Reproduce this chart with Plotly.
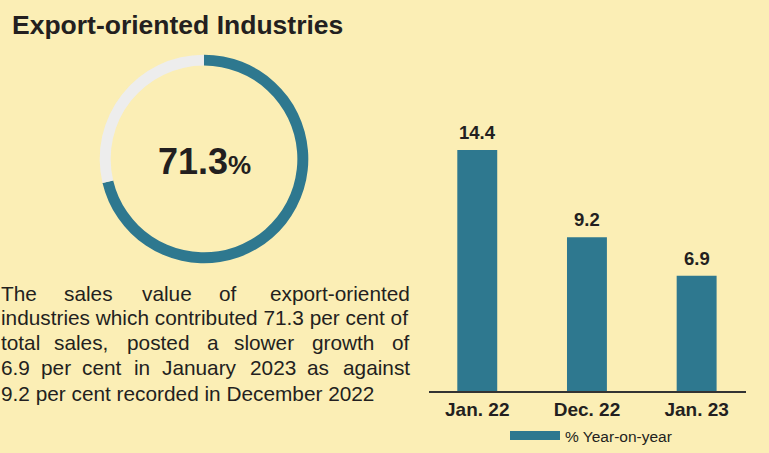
import plotly.graph_objects as go

W, H = 769, 453

COLORS = {
    "bg": "#FBEEB5",
    "teal": "#2E788F",
    "ring": "#EDEDED",
    "text": "#231F20",
}
FONT = "Arial, 'Liberation Sans', sans-serif"

# data
categories = ["Jan. 22", "Dec. 22", "Jan. 23"]
yoy_growth = [14.4, 9.2, 6.9]
share_labels = ["Export-oriented", "Other industries"]
share_values = [71.3, 28.7]
share_text = "71.3"
legend_name = "% Year-on-year"
title_text = "Export-oriented Industries"

paragraph = [
    ["The", "sales", "value", "of", "export-oriented"],
    ["industries which contributed 71.3 per cent of"],
    ["total", "sales,", "posted", "a", "slower", "growth", "of"],
    ["6.9", "per", "cent", "in", "January", "2023", "as", "against"],
    ["9.2 per cent recorded in December 2022"],
]

# justified paragraph layout: left edge of each word in px (None = flush right), line centres
word_left = [
    [2, 65, 143, 220, None],
    [2],
    [2, 55, 128, 208, 235, 313, None],
    [2, 42, 83, 135, 163, 251, 308, None],
    [2],
]
line_y = [295, 320, 345, 370, 396]
right_edge = 412
TEXT_PAD = 3  # annotation inner padding


def px_x(x):
    return x / W


def px_y(y):
    return 1 - y / H


fig = go.Figure()

fig.add_trace(go.Pie(
    labels=share_labels, values=share_values, hole=0.895, sort=False,
    direction="clockwise", rotation=0, textinfo="none", hoverinfo="label+value",
    marker=dict(colors=[COLORS["teal"], COLORS["ring"]], line=dict(width=0)),
    domain=dict(x=[px_x(99), px_x(309)], y=[px_y(265), px_y(55)]),
    showlegend=False,
))

fig.add_trace(go.Bar(
    x=categories, y=yoy_growth, marker=dict(color=COLORS["teal"], line=dict(width=0)),
    showlegend=False, name=legend_name,
))
# legend entry only
fig.add_trace(go.Scatter(
    x=[None], y=[None], mode="lines", name=legend_name,
    line=dict(color=COLORS["teal"], width=9),
))

for cat, v in zip(categories, yoy_growth):
    fig.add_annotation(
        x=cat, y=v, xref="x", yref="y", text=f"<b>{v}</b>", showarrow=False,
        yanchor="bottom", yshift=5, font=dict(size=18.5, color=COLORS["text"], family=FONT),
    )

fig.add_annotation(
    x=px_x(10), y=px_y(25), xref="paper", yref="paper", xanchor="left", yanchor="middle",
    text=f"<b>{title_text}</b>", showarrow=False,
    font=dict(size=26.5, color=COLORS["text"], family=FONT),
)
fig.add_annotation(
    x=px_x(204), y=px_y(163), xref="paper", yref="paper", xanchor="center", yanchor="middle",
    text=f"<b>{share_text}<span style='font-size:26px'>%</span></b>", showarrow=False,
    font=dict(size=36, color=COLORS["text"], family=FONT),
)

for words, lefts, y in zip(paragraph, word_left, line_y):
    for w, lx in zip(words, lefts):
        flush_right = lx is None
        fig.add_annotation(
            x=px_x(right_edge if flush_right else lx - TEXT_PAD), y=px_y(y),
            xref="paper", yref="paper",
            xanchor="right" if flush_right else "left", yanchor="middle",
            text=w, showarrow=False,
            font=dict(size=20.8, color=COLORS["text"], family=FONT),
        )

fig.update_layout(
    width=W, height=H,
    paper_bgcolor=COLORS["bg"], plot_bgcolor=COLORS["bg"],
    margin=dict(l=0, r=0, t=0, b=0),
    bargap=0.636,
    font=dict(family=FONT, color=COLORS["text"]),
    xaxis=dict(
        domain=[px_x(429), px_x(746)], range=[-0.44, 2.45],
        showline=True, linecolor="#333333", linewidth=1.5, ticks="",
        showgrid=False, zeroline=False,
        tickfont=dict(size=19, color=COLORS["text"], family=FONT),
    ),
    yaxis=dict(
        domain=[px_y(394), px_y(124)], range=[0, 16],
        visible=False, showgrid=False, zeroline=False,
    ),
    legend=dict(
        orientation="h", x=px_x(505), y=px_y(439), xanchor="left", yanchor="middle",
        itemwidth=50,
        bgcolor="rgba(0,0,0,0)", font=dict(size=15.5, color=COLORS["text"], family=FONT),
    ),
)
fig.update_xaxes(tickprefix="<b>", ticksuffix="</b>")

fig.write_html(
    "out.html",
    config={"displayModeBar": False},
    post_script="document.body.style.margin='0';document.body.style.overflow='hidden';",
)
